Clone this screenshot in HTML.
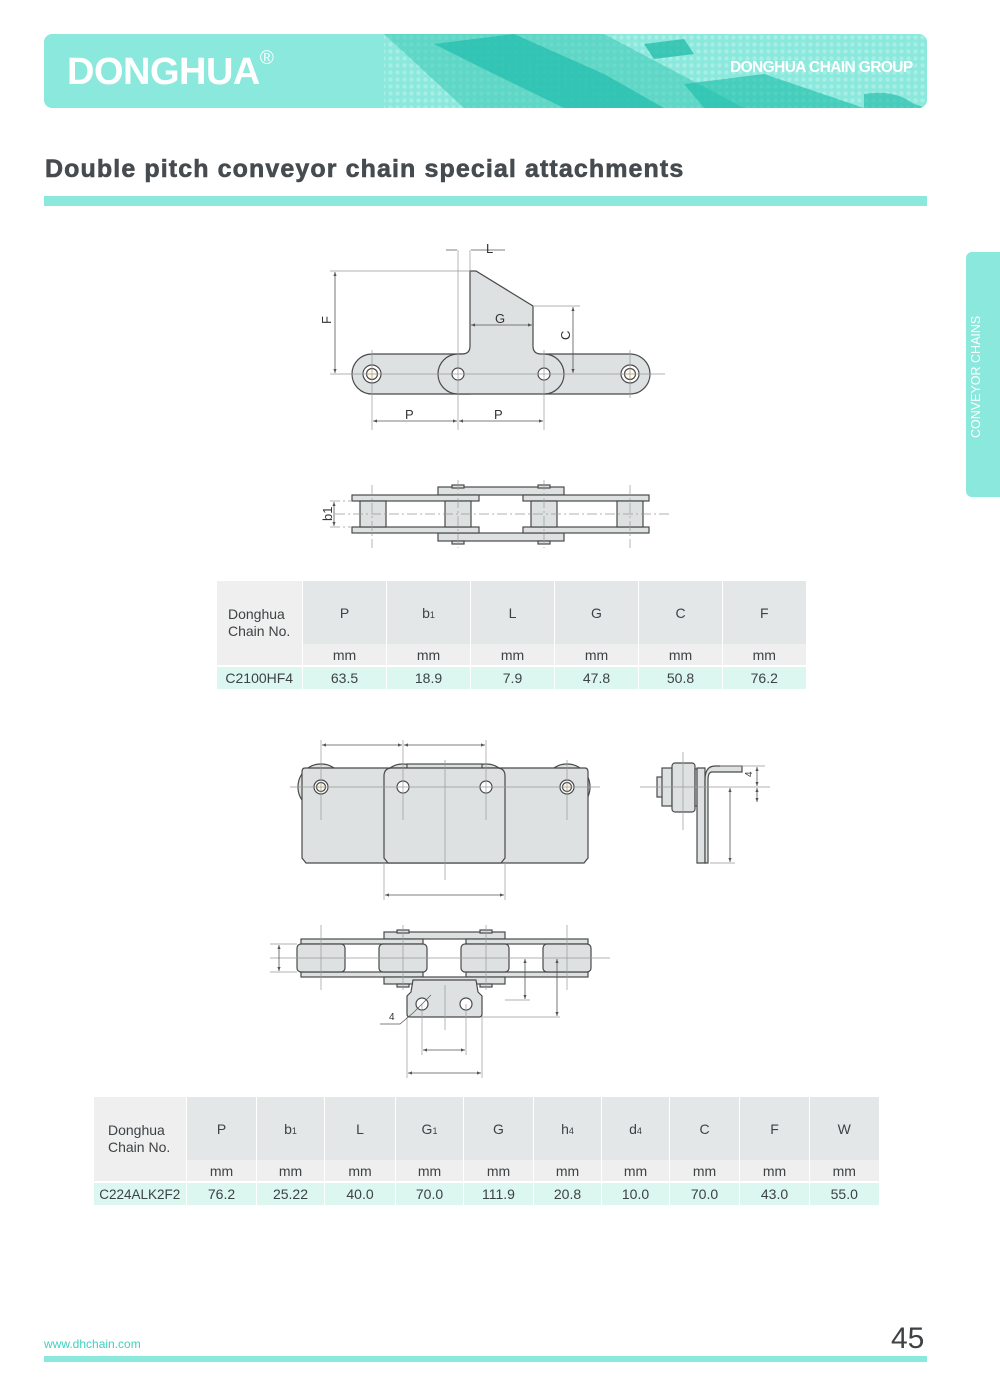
<!DOCTYPE html>
<html><head><meta charset="utf-8"><style>
*{margin:0;padding:0;box-sizing:border-box}
body{width:1000px;height:1396px;background:#fff;position:relative;overflow:hidden;font-family:"Liberation Sans",sans-serif}
.abs{position:absolute}
table{position:absolute;border-collapse:collapse;table-layout:fixed;font-family:"Liberation Sans Narrow","Liberation Sans",sans-serif;color:#3d4245;font-size:14px}
td{text-align:center;border-left:1px solid #fff;padding:0;white-space:nowrap}
td.h{background:#e4e7e8}
td.u{background:#efefef}
td.f{background:#efefef;text-align:left;padding-left:11px;line-height:17px}
tr.d td{background:#dcf7ef;border-top:2px solid #fff}
sub{font-size:9px;vertical-align:baseline}
</style></head><body>
<div class="abs" style="left:44px;top:34px;width:883px;height:74px;border-radius:8px;background:#8ae8dc;overflow:hidden">
<svg width="883" height="74" style="position:absolute;left:0;top:0">
<defs><pattern id="dots" width="7" height="7" patternUnits="userSpaceOnUse"><circle cx="3.5" cy="3.5" r="2.2" fill="#b4f0e8"/></pattern></defs>
<rect x="340" y="0" width="543" height="74" fill="url(#dots)" opacity="0.7"/>
<path d="M340 0 L560 0 L700 74 L420 74 Z" fill="#3cc8b6" opacity="0.55"/>
<path d="M390 10 L470 0 L560 40 L620 74 L520 74 L450 40 Z" fill="#14b8a6" opacity="0.6"/>
<path d="M640 50 L720 40 L820 74 L660 74 Z" fill="#19bca9" opacity="0.6"/>
<path d="M600 10 L640 5 L650 20 L610 25 Z" fill="#18b8a4" opacity="0.7"/>
<path d="M820 60 Q850 55 870 70 L883 74 L820 74Z" fill="#1ab9a7" opacity="0.6"/>
</svg>
<div class="abs" style="left:23px;top:17px;font-size:38px;font-weight:bold;color:#fff;letter-spacing:-0.5px">DONGHUA<span style="font-size:19px;font-weight:normal;vertical-align:top;position:relative;top:-3px">®</span></div>
<div class="abs" style="left:686px;top:25px;font-size:15.5px;font-weight:bold;color:#fff;letter-spacing:-0.6px">DONGHUA CHAIN GROUP</div>
</div>
<div class="abs" style="left:45px;top:155px;font-size:25px;font-weight:bold;color:#454b4e;letter-spacing:1.1px;-webkit-text-stroke:0.6px #454b4e">Double pitch conveyor chain special attachments</div>
<div class="abs" style="left:44px;top:196px;width:883px;height:10px;background:#8ae8dc"></div>
<div class="abs" style="left:966px;top:252px;width:40px;height:245px;border-radius:6px 0 0 6px;background:#8ae8dc"></div>
<div class="abs" style="left:969px;top:438px;transform:rotate(-90deg);transform-origin:0 0;font-size:12.5px;color:#fff;white-space:nowrap">CONVEYOR CHAINS</div>

<svg class="abs" style="left:0;top:0" width="1000" height="1396" font-family="Liberation Sans, sans-serif">
<defs><marker id="a" viewBox="0 0 10 10" refX="10" refY="5" markerWidth="7" markerHeight="5" orient="auto-start-reverse"><path d="M0 1L10 5L0 9Z" fill="#555"/></marker></defs>
<g fill="#dde1e2" stroke="#4a4a4a" stroke-width="1.2">
<path d="M372 354 H470 V394 H372 A20 20 0 0 1 372 354Z"/>
<path d="M544 354 H630 A20 20 0 0 1 630 394 H544Z"/>
<path d="M458 354 H462 Q470 354 470 346 V271 H476 L533 306 V346 Q533 354 541 354 H544 A20 20 0 0 1 544 394 H458 A20 20 0 0 1 458 354Z"/>
<circle cx="372" cy="374" r="9" fill="#fff"/><circle cx="372" cy="374" r="5.5" fill="#fffbe8"/>
<circle cx="630" cy="374" r="9" fill="#fff"/><circle cx="630" cy="374" r="5.5" fill="#fffbe8"/>
<circle cx="458" cy="374" r="6" fill="#fff"/><circle cx="544" cy="374" r="6" fill="#fff"/>
<rect x="438" y="487" width="126" height="8"/><rect x="438" y="533" width="126" height="8"/>
<rect x="352" y="495" width="127" height="6"/><rect x="523" y="495" width="126" height="6"/>
<rect x="352" y="527" width="127" height="6"/><rect x="523" y="527" width="126" height="6"/>
<rect x="360" y="501" width="26" height="26"/><rect x="445" y="501" width="26" height="26"/>
<rect x="531" y="501" width="26" height="26"/><rect x="617" y="501" width="26" height="26"/>
<rect x="452" y="485" width="12" height="3"/><rect x="538" y="485" width="12" height="3"/>
<rect x="452" y="541" width="12" height="3"/><rect x="538" y="541" width="12" height="3"/>
<circle cx="321" cy="787" r="23"/><circle cx="403" cy="787" r="23"/><circle cx="486" cy="787" r="23"/><circle cx="567" cy="787" r="23"/>
<path d="M305 768 H585 Q588 768 588 772 V858 L584 863 H306 L302 858 V772 Q302 768 305 768Z"/>
<rect x="407" y="764" width="75" height="6"/>
<path d="M392 768 H497 Q505 768 505 776 V858 L501 863 H388 L384 858 V776 Q384 768 392 768Z"/>
<circle cx="321" cy="787" r="7" fill="#fff"/><circle cx="321" cy="787" r="4.5" fill="#fffbe8"/>
<circle cx="567" cy="787" r="7" fill="#fff"/><circle cx="567" cy="787" r="4.5" fill="#fffbe8"/>
<rect x="397" y="781" width="12" height="12" rx="6" fill="#fff"/><rect x="480" y="781" width="12" height="12" rx="6" fill="#fff"/>
<rect x="657" y="777" width="7" height="20"/><rect x="662" y="768" width="10" height="38"/>
<rect x="672" y="763" width="23" height="49" rx="3"/><rect x="695" y="769" width="3" height="37"/>
<path d="M697 768 H705 V863 H697Z"/><path d="M705 863 V780 Q705 766 715 766 H742 V772 H712 Q708 772 708 780 V863Z"/>
<rect x="384" y="932" width="121" height="7"/>
<rect x="301" y="939" width="122" height="5"/><rect x="466" y="939" width="122" height="5"/>
<rect x="301" y="972" width="122" height="5"/><rect x="466" y="972" width="122" height="5"/>
<rect x="384" y="977" width="121" height="7"/>
<path d="M413 980 H476 L478 992 L482 996 V1014 Q482 1017 479 1017 H410 Q407 1017 407 1014 V996 L411 992Z"/>
<rect x="297" y="944" width="48" height="28" rx="4"/><rect x="379" y="944" width="48" height="28" rx="4"/>
<rect x="461" y="944" width="48" height="28" rx="4"/><rect x="543" y="944" width="48" height="28" rx="4"/>
<rect x="397" y="930" width="12" height="3"/><rect x="480" y="930" width="12" height="3"/>
<rect x="397" y="984" width="12" height="3"/><rect x="480" y="984" width="12" height="3"/>
<circle cx="422" cy="1004" r="6" fill="#fff"/><circle cx="466" cy="1004" r="6" fill="#fff"/>
</g>
<g stroke="#999" stroke-width="0.7" fill="none">
<path d="M330 374H665 M372 350V430 M458 250V430 M544 350V430 M630 350V398 M470 250V271 M330 271H470 M533 306H580" />
<path d="M335 514H670 M372 485V548 M458 480V548 M544 480V548 M630 485V548 M330 501H352 M330 527H352" stroke-dasharray="10 3 2 3"/>
<path d="M290 787H600 M321 740V820 M403 740V820 M486 740V820 M567 760V820 M445 760V880 M384 863V900 M505 863V900"/>
<path d="M640 787H770 M683 752V830 M720 766H765 M720 787H765 M710 863H735"/>
<path d="M270 958H610 M321 925V990 M403 925V990 M486 925V990 M567 925V990 M270 944H297 M270 972H297 M505 1000H530 M482 1017H560 M407 1017V1078 M482 1017V1078 M422 1004V1055 M466 1004V1055 M445 985V1030"/>
</g>
<g stroke="#555" stroke-width="0.8" fill="none" marker-start="url(#a)" marker-end="url(#a)">
<path d="M335 272V373"/><path d="M573 307V373"/><path d="M471 325H532"/>
<path d="M373 421H457"/><path d="M459 421H543"/><path d="M334 502V526"/>
<path d="M322 745H402"/><path d="M404 745H485"/><path d="M385 895H504"/>
<path d="M757 767V786"/><path d="M757 788V802"/><path d="M730 788V862"/>
<path d="M279 945V971"/><path d="M525 959V999"/><path d="M557 959V1016"/>
<path d="M423 1050H465"/><path d="M408 1073H481"/>
</g>
<path d="M446 250H457 M471 250H505" stroke="#555" stroke-width="0.8"/>
<path d="M413 1013L431 995 M380 1024H400L413 1013" stroke="#555" stroke-width="0.7" fill="none"/>
<g fill="#333" font-size="13" font-family="Liberation Sans Narrow, Liberation Sans, sans-serif">
<text x="486" y="253">L</text><text x="495" y="323">G</text><text x="405" y="419">P</text><text x="494" y="419">P</text>
<text transform="translate(331,324) rotate(-90)">F</text><text transform="translate(570,340) rotate(-90)">C</text>
<text transform="translate(332,521) rotate(-90)">b1</text>
<text transform="translate(752,777) rotate(-90)" font-size="10">4</text>
<text x="389" y="1020" font-size="10">4</text>
</g>
</svg>

<table style="left:216px;top:581px;width:589px">
<colgroup><col style="width:86px"><col style="width:84px"><col style="width:84px"><col style="width:84px"><col style="width:84px"><col style="width:84px"><col style="width:83px"></colgroup>
<tr style="height:63px"><td class="f" rowspan="2">Donghua<br>Chain No.</td><td class="h">P</td><td class="h">b<sub>1</sub></td><td class="h">L</td><td class="h">G</td><td class="h">C</td><td class="h">F</td></tr>
<tr style="height:22px"><td class="u">mm</td><td class="u">mm</td><td class="u">mm</td><td class="u">mm</td><td class="u">mm</td><td class="u">mm</td></tr>
<tr class="d" style="height:23px"><td style="border-left:none">C2100HF4</td><td>63.5</td><td>18.9</td><td>7.9</td><td>47.8</td><td>50.8</td><td>76.2</td></tr>
</table>

<table style="left:93px;top:1097px;width:785px">
<colgroup><col style="width:93px"><col style="width:70px"><col style="width:68px"><col style="width:71px"><col style="width:68px"><col style="width:70px"><col style="width:68px"><col style="width:68px"><col style="width:70px"><col style="width:70px"><col style="width:69px"></colgroup>
<tr style="height:63px"><td class="f" rowspan="2" style="padding-left:14px">Donghua<br>Chain No.</td><td class="h">P</td><td class="h">b<sub>1</sub></td><td class="h">L</td><td class="h">G<sub>1</sub></td><td class="h">G</td><td class="h">h<sub>4</sub></td><td class="h">d<sub>4</sub></td><td class="h">C</td><td class="h">F</td><td class="h">W</td></tr>
<tr style="height:22px"><td class="u">mm</td><td class="u">mm</td><td class="u">mm</td><td class="u">mm</td><td class="u">mm</td><td class="u">mm</td><td class="u">mm</td><td class="u">mm</td><td class="u">mm</td><td class="u">mm</td></tr>
<tr class="d" style="height:23px"><td style="border-left:none;font-size:13.5px">C224ALK2F2</td><td>76.2</td><td>25.22</td><td>40.0</td><td>70.0</td><td>111.9</td><td>20.8</td><td>10.0</td><td>70.0</td><td>43.0</td><td>55.0</td></tr>
</table>

<div class="abs" style="left:44px;top:1337px;font-size:12px;color:#3fd0bf">www.dhchain.com</div>
<div class="abs" style="left:891px;top:1322px;font-size:30px;color:#3d4245">45</div>
<div class="abs" style="left:44px;top:1356px;width:883px;height:6px;background:#8ae8dc"></div>
</body></html>
